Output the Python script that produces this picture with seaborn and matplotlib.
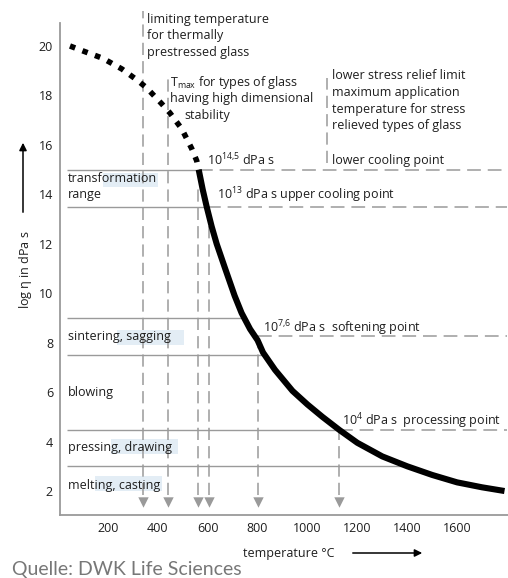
import numpy as np
import pandas as pd
import matplotlib.pyplot as plt
import seaborn as sns
from matplotlib.patches import Rectangle

# viscosity curve (temperature in degC, log eta in dPa s)
temp_dotted = [48, 100, 180, 256, 320, 356, 416, 448, 496, 536, 556, 564]
logeta_dotted = [20.0, 19.8, 19.5, 19.07, 18.6, 18.3, 17.66, 17.3, 16.65, 15.85, 15.36, 15.0]
temp_solid = [564, 580, 596, 616, 636, 670, 708, 736, 770, 800, 822, 870, 940,
              1000, 1060, 1128, 1200, 1300, 1400, 1500, 1600, 1700, 1790]
logeta_solid = [15.0, 14.2, 13.5, 12.7, 12.0, 11.0, 9.9, 9.2, 8.55, 8.1, 7.6, 6.9, 6.05,
                5.5, 5.0, 4.47, 3.95, 3.4, 3.0, 2.65, 2.35, 2.15, 2.0]

# working range boundaries, solid from the axis up to the curve
range_levels = [15.0, 13.5, 9.0, 7.5, 4.47, 3.0]
range_ends = [564, 596, 736, 822, 1128, 1400]
# fixed points, dashed from the curve to the right edge
fixed_levels = [15.0, 13.5, 8.28, 4.47]
fixed_starts = [564, 596, 800, 1128]

# temperatures marked with dashed arrows down to the axis
arrow_temps = [340, 440, 560, 604, 800, 1128]
arrow_tops = [21.4, 18.8, 14.2, 13.4, 8.28, 4.47]

xticks = [200, 400, 600, 800, 1000, 1200, 1400, 1600, 1800]
xtick_labels = ['200', '400', '600', '800', '1000', '1200', '1400', '1600', '']
yticks = [2, 4, 6, 8, 10, 12, 14, 16, 18, 20]

sns.set_theme(style='white')
plt.rcParams['font.family'] = ['Open Sans', 'DejaVu Sans']
plt.rcParams['mathtext.fontset'] = 'custom'
plt.rcParams['mathtext.rm'] = 'Open Sans'
plt.rcParams['mathtext.it'] = 'Open Sans:italic'

grey = '#9a9a9a'
txt = '#1e1e1e'
hl = '#e3edf5'
fs = 9

fig = plt.figure(figsize=(5.08, 5.78), dpi=100)
ax = fig.add_axes([60 / 508, 63 / 578, 448 / 508, 492 / 578])

# highlight boxes behind parts of the range labels
for x0, x1, y0, y1 in [(180, 400, 14.3, 14.86), (236, 504, 7.9, 8.51),
                       (212, 480, 3.5, 4.1), (148, 416, 2.0, 2.61)]:
    ax.add_patch(Rectangle((x0, y0), x1 - x0, y1 - y0, color=hl, lw=0, zorder=0))

ax.hlines(range_levels, 36, range_ends, color=grey, lw=1.0, zorder=1)
ax.hlines(fixed_levels, fixed_starts, 1800, color=grey, lw=1.1,
          linestyles=[(0, (9, 4.5))], zorder=1)
ax.vlines(arrow_temps, 1.85, arrow_tops, color=grey, lw=1.1,
          linestyles=[(0, (8, 4))], clip_on=False, zorder=1)
ax.vlines([1080], 15.25, 18.7, color=grey, lw=1.1, linestyles=[(0, (8, 4))], zorder=1)
ax.scatter(arrow_temps, [1.55] * len(arrow_temps), marker='v', s=56, color=grey,
           lw=0, zorder=2)

dotted = pd.DataFrame({'T': temp_dotted, 'eta': logeta_dotted})
solid = pd.DataFrame({'T': temp_solid, 'eta': logeta_solid})
sns.lineplot(data=dotted, x='T', y='eta', ax=ax, color='black', lw=4.0,
             linestyle=(0, (1, 1.4)), estimator=None, zorder=3)
sns.lineplot(data=solid, x='T', y='eta', ax=ax, color='black', lw=4.4,
             estimator=None, zorder=3, solid_capstyle='butt')

ax.set_xlim(8, 1804)
ax.set_ylim(1.03, 20.93)
ax.set_xticks(xticks)
ax.set_xticklabels(xtick_labels)
ax.set_yticks(yticks)
ax.set_xlabel('')
ax.set_ylabel('')
ax.tick_params(direction='in', length=5, width=1, color=grey, labelcolor=txt,
               labelsize=fs, pad=5)
for s in ['top', 'right']:
    ax.spines[s].set_visible(False)
for s in ['left', 'bottom']:
    ax.spines[s].set_color(grey)
    ax.spines[s].set_linewidth(1.3)


def block(x, y, lines, step=0.67):
    for i, line in enumerate(lines):
        ax.text(x, y - i * step, line, fontsize=fs, color=txt, ha='left', va='center',
                clip_on=False)


block(356, 21.09, ['limiting temperature', 'for thermally', 'prestressed glass'])
block(448, 18.54, [r'$\mathrm{T_{max}}$ for types of glass', 'having high dimensional'])
block(508, 17.2, ['stability'])
block(1100, 18.79, ['lower stress relief limit', 'maximum application',
                    'temperature for stress', 'relieved types of glass'], step=0.675)
block(1100, 15.35, ['lower cooling point'])
block(596, 15.39, [r'10$^{14{,}5}$ dPa s'])
block(636, 13.97, [r'10$^{13}$ dPa s upper cooling point'])
block(820, 8.59, [r'10$^{7{,}6}$ dPa s  softening point'])
block(1140, 4.83, [r'10$^{4}$ dPa s  processing point'])

block(40, 14.66, ['transformation', 'range'], step=0.65)
block(40, 8.23, ['sintering, sagging'])
block(40, 6.0, ['blowing'])
block(40, 3.78, ['pressing, drawing'])
block(40, 2.24, ['melting, casting'])

fig.text(25 / 508, 1 - 270 / 578, r'log $\mathrm{\eta}$ in dPa s', rotation=90,
         ha='center', va='center', fontsize=fs, color=txt)
ax.annotate('', xy=(23 / 508, 1 - 140 / 578), xytext=(23 / 508, 1 - 215 / 578),
            xycoords='figure fraction', textcoords='figure fraction',
            arrowprops=dict(arrowstyle='-|>', color='black', lw=1.1, mutation_scale=11))
fig.text(289 / 508, 1 - 553 / 578, 'temperature °C', ha='center', va='center',
         fontsize=fs, color=txt)
ax.annotate('', xy=(425 / 508, 1 - 553 / 578), xytext=(350 / 508, 1 - 553 / 578),
            xycoords='figure fraction', textcoords='figure fraction',
            arrowprops=dict(arrowstyle='-|>', color='black', lw=1.1, mutation_scale=11))

fig.text(12 / 508, 1 - 569 / 578, 'Quelle: DWK Life Sciences', ha='left', va='center',
         fontsize=14, color='#777777', family=['Lato', 'DejaVu Sans'])

fig.savefig('out.png', dpi=100)
